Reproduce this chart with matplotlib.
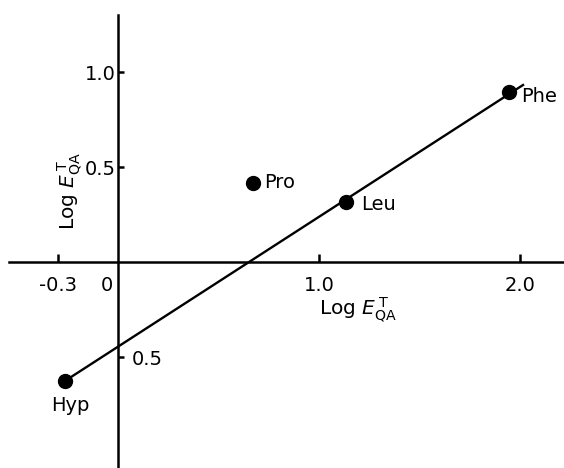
import matplotlib
matplotlib.use("Agg")
import matplotlib.pyplot as plt

plt.rcParams['font.family'] = ['DejaVu Sans']
plt.rcParams['mathtext.fontset'] = 'dejavusans'

# data
amino_acids = ['Hyp', 'Pro', 'Leu', 'Phe']
log_e_t = [-0.264, 0.672, 1.134, 1.945]     # x: Log E^T_QA
log_e_y = [-0.626, 0.416, 0.316, 0.895]     # y
fit_x = [-0.264, 2.02]
fit_y = [-0.626, 0.935]

x_ticks = [-0.3, 1.0, 2.0]
x_ticklabels = ['-0.3', '1.0', '2.0']
y_ticks = [-0.5, 0.5, 1.0]
y_ticklabels = ['', '0.5', '1.0']

# label offsets in points (dx, dy) and alignment
label_style = {
    'Hyp': ((4, -11), 'center', 'top'),
    'Pro': ((8, 0), 'left', 'center'),
    'Leu': ((11, -1.5), 'left', 'center'),
    'Phe': ((9, -3.5), 'left', 'center'),
}

fig = plt.figure(figsize=(5.64, 4.68), dpi=100)
ax = fig.add_axes([0, 0, 1, 1])
ax.set_xlim(-0.587, 2.219)
ax.set_ylim(-1.084, 1.379)

for s in ['top', 'right']:
    ax.spines[s].set_visible(False)
ax.spines['left'].set_position(('data', 0))
ax.spines['bottom'].set_position(('data', 0))
ax.spines['left'].set_bounds(-1.084, 1.30)
ax.spines['bottom'].set_bounds(-0.54, 2.219)
for s in ['left', 'bottom']:
    ax.spines[s].set_linewidth(1.8)

ax.set_xticks(x_ticks)
ax.set_xticklabels(x_ticklabels)
ax.set_yticks(y_ticks)
ax.set_yticklabels(y_ticklabels)
ax.tick_params(axis='x', direction='in', length=6, width=1.8, pad=10, labelsize=14)
ax.tick_params(axis='y', direction='in', length=4.5, width=1.8, pad=1.5, labelsize=14)

ax.plot(fit_x, fit_y, color='black', lw=1.7, solid_capstyle='butt')
ax.plot(log_e_t, log_e_y, 'o', color='black', markersize=10)

for name, x, y in zip(amino_acids, log_e_t, log_e_y):
    (dx, dy), ha, va = label_style[name]
    ax.annotate(name, xy=(x, y), xytext=(dx, dy), textcoords='offset points',
                ha=ha, va=va, fontsize=14)

# origin label and the negative y tick label to the right of the axis
ax.annotate('0', xy=(0, 0), xytext=(-8, -10), textcoords='offset points',
            ha='center', va='top', fontsize=14)
ax.annotate('0.5', xy=(0, -0.5), xytext=(10, 0), textcoords='offset points',
            ha='left', va='center_baseline', fontsize=14)

ax.text(358 / 564, 1 - 310 / 468, r'Log $\mathit{E}^{\,\mathrm{T}}_{\mathrm{QA}}$',
        transform=ax.transAxes, ha='center', va='center', fontsize=14.5)
ax.text(70 / 564, 1 - 191 / 468, r'Log $\mathit{E}^{\,\mathrm{T}}_{\mathrm{QA}}$',
        transform=ax.transAxes, ha='center', va='center', fontsize=14.5, rotation=90)

fig.savefig('out.png', dpi=100)
